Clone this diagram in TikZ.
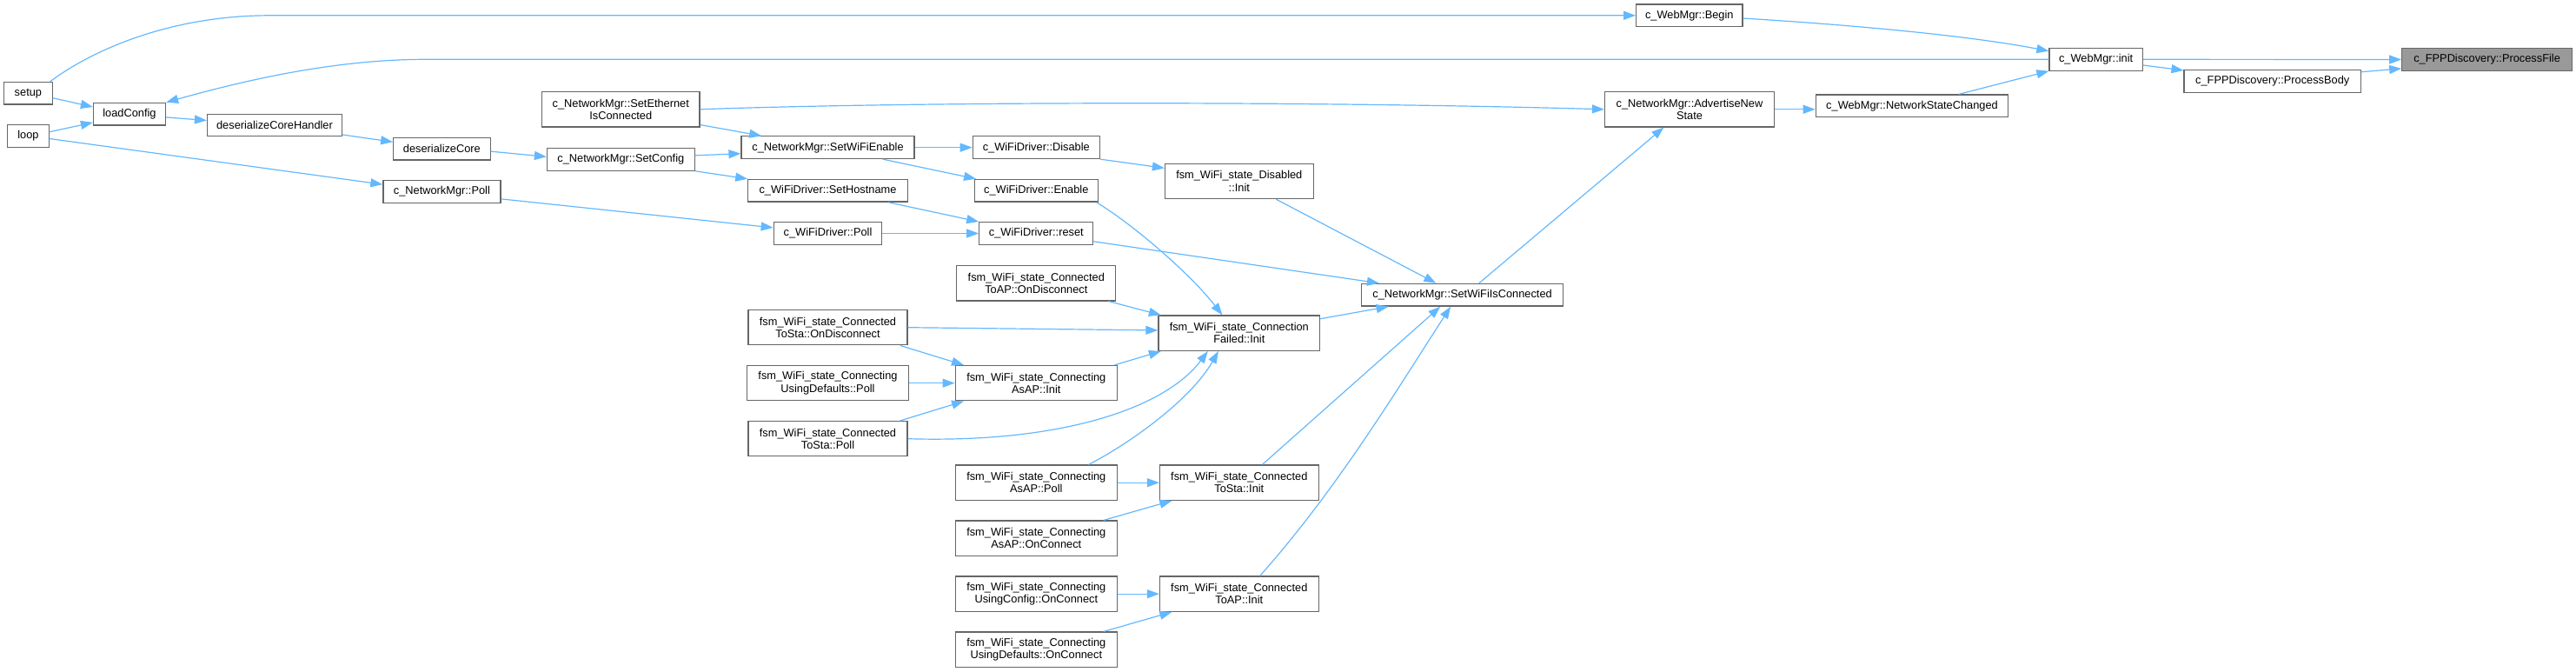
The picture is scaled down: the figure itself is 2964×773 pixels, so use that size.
\documentclass[tikz,border=0pt]{standalone}
\usepackage{fontspec}
\setmainfont{Liberation Sans}
\usetikzlibrary{arrows.meta}
\definecolor{edgeblue}{HTML}{63B8FF}
\definecolor{boxgray}{HTML}{666666}
\definecolor{hlgray}{HTML}{999999}

\begin{document}
\begin{tikzpicture}[x=1pt,y=-1pt,
  fn/.style={draw=boxgray, line width=1.2pt, fill=white, inner sep=0pt,
    minimum height=25.7pt, align=center, font=\fontsize{12.8}{14.3}\selectfont},
  fn2/.style={fn, minimum height=40.3pt},
  call/.style={draw=edgeblue, line width=1.2pt, -{Triangle[length=14pt,width=10pt]}}]
\useasboundingbox (0,0) rectangle (2964,773);
% Entry points
\node[fn, minimum width=55.5pt] (setup) at (32.4,107.2) {setup};
\node[fn, minimum width=47.5pt] (loop) at (32.5,156.5) {loop};
\node[fn, minimum width=83pt] (loadcfg) at (149,131.2) {loadConfig};
\node[fn, minimum width=155pt] (dch) at (316,144) {deserializeCoreHandler};
\node[fn, minimum width=111.4pt] (dc) at (508.4,171.2) {deserializeCore};
\node[fn, minimum width=135pt] (nmpoll) at (508.4,220.5) {c\_NetworkMgr::Poll};
% Network manager column
\node[fn2, minimum width=181.2pt] (seteth) at (714.3,125.8) {c\_NetworkMgr::SetEthernet\\IsConnected};
\node[fn, minimum width=169.6pt] (setcfg) at (714.3,183.3) {c\_NetworkMgr::SetConfig};
\node[fn, minimum width=199pt] (wifien) at (952.5,169.7) {c\_NetworkMgr::SetWiFiEnable};
\node[fn, minimum width=183.5pt] (sethost) at (952.5,219.2) {c\_WiFiDriver::SetHostname};
\node[fn, minimum width=124.5pt] (wdpoll) at (952.5,268.5) {c\_WiFiDriver::Poll};
\node[fn2, minimum width=183pt] (stadisc) at (952.5,376.7) {fsm\_WiFi\_state\_Connected\\ToSta::OnDisconnect};
\node[fn2, minimum width=185.7pt] (defpoll) at (952.5,440.7) {fsm\_WiFi\_state\_Connecting\\UsingDefaults::Poll};
\node[fn2, minimum width=183pt] (stapoll) at (952.5,504.7) {fsm\_WiFi\_state\_Connected\\ToSta::Poll};
% WiFi driver / state column
\node[fn, minimum width=146pt] (disable) at (1192.3,169.7) {c\_WiFiDriver::Disable};
\node[fn, minimum width=142pt] (enable) at (1192.3,219.2) {c\_WiFiDriver::Enable};
\node[fn, minimum width=131pt] (reset) at (1192.3,268.5) {c\_WiFiDriver::reset};
\node[fn2, minimum width=183pt] (apdisc) at (1192.3,325.8) {fsm\_WiFi\_state\_Connected\\ToAP::OnDisconnect};
\node[fn2, minimum width=186.2pt] (apinit) at (1192.3,440.7) {fsm\_WiFi\_state\_Connecting\\AsAP::Init};
\node[fn2, minimum width=186.2pt] (appoll) at (1192.3,555.2) {fsm\_WiFi\_state\_Connecting\\AsAP::Poll};
\node[fn2, minimum width=186.2pt] (apconn) at (1192.3,619.2) {fsm\_WiFi\_state\_Connecting\\AsAP::OnConnect};
\node[fn2, minimum width=186.2pt] (cfgconn) at (1192.3,683.2) {fsm\_WiFi\_state\_Connecting\\UsingConfig::OnConnect};
\node[fn2, minimum width=186.2pt] (defconn) at (1192.3,747.2) {fsm\_WiFi\_state\_Connecting\\UsingDefaults::OnConnect};
% Init states
\node[fn2, minimum width=170.6pt] (disinit) at (1425.8,208.5) {fsm\_WiFi\_state\_Disabled\\::Init};
\node[fn2, minimum width=185.7pt] (cfinit) at (1425.8,383.2) {fsm\_WiFi\_state\_Connection\\Failed::Init};
\node[fn2, minimum width=182.6pt] (stainit) at (1425.8,555.2) {fsm\_WiFi\_state\_Connected\\ToSta::Init};
\node[fn2, minimum width=182.6pt] (toapinit) at (1425.8,683.2) {fsm\_WiFi\_state\_Connected\\ToAP::Init};
\node[fn, minimum width=232pt] (setconn) at (1682.6,339.2) {c\_NetworkMgr::SetWiFiIsConnected};
% Web manager and target
\node[fn, minimum width=122.3pt] (begin) at (1943.8,17.8) {c\_WebMgr::Begin};
\node[fn2, minimum width=195pt] (adv) at (1944,125.8) {c\_NetworkMgr::AdvertiseNew\\State};
\node[fn, minimum width=221.4pt] (nsc) at (2200,121.8) {c\_WebMgr::NetworkStateChanged};
\node[fn, minimum width=107.2pt] (init) at (2411.6,68.3) {c\_WebMgr::init};
\node[fn, minimum width=203.3pt] (body) at (2614.7,93.5) {c\_FPPDiscovery::ProcessBody};
\node[fn, minimum width=195.7pt, fill=hlgray] (file) at (2861.6,68.5) {c\_FPPDiscovery::ProcessFile};
% Straight calls
\foreach \a/\b in {setup.-11/loadcfg.169, loop.11/loadcfg.-167, loop.-7/nmpoll.173,
  loadcfg.-5/dch.176, dch.-8/dc.172, dc.-3/setcfg.178, setcfg.3/wifien.-176,
  setcfg.south east/sethost.north west, seteth.-11/wifien.170, nmpoll.-7/wdpoll.174,
  wifien.east/disable.west, wifien.-12/enable.169, sethost.-11/reset.north west,
  wdpoll.east/reset.west, disable.south east/disinit.170, disinit.-26/setconn.156,
  reset.-8/setconn.172, cfinit.10/setconn.189, stainit.38/setconn.208,
  setconn.35/adv.-145, nsc.14/init.south west, init.east/file.west,
  init.-7/body.173, body.6/file.-174, apdisc.-14/cfinit.167, stadisc.east/cfinit.178,
  stadisc.-14/apinit.166, defpoll.east/apinit.west, stapoll.14/apinit.-166,
  apinit.13/cfinit.-167, appoll.east/stainit.west, apconn.15/stainit.-165,
  cfgconn.east/toapinit.west, defconn.15/toapinit.-165} {
  \draw[call] (\a) -- (\b);
}
\draw[call] (adv.east) -- (adv.east -| nsc.west);
% Curved calls
\draw[call] (setup.28) .. controls (110,55) and (200,17.8) .. (310,17.8) -- (begin.west);
\draw[call] (init.west) -- (490,68.3) .. controls (390,68.3) and (290,90) .. (loadcfg.north east);
\draw[call] (seteth.east) .. controls (1050,117) and (1500,116) .. (adv.west);
\draw[call] (enable.-11) .. controls (1308,261) and (1372,318) .. (cfinit.133);
\draw[call] (begin.-3) .. controls (2120,28) and (2260,40) .. (init.170);
\draw[call] (stapoll.east) .. controls (1220,510) and (1340,470) .. (cfinit.-150);
\draw[call] (appoll.19) .. controls (1300,510) and (1370,460) .. (cfinit.-139);
\draw[call] (toapinit.41) .. controls (1538,563) and (1605,452) .. (setconn.-135);
\end{tikzpicture}
\end{document}
